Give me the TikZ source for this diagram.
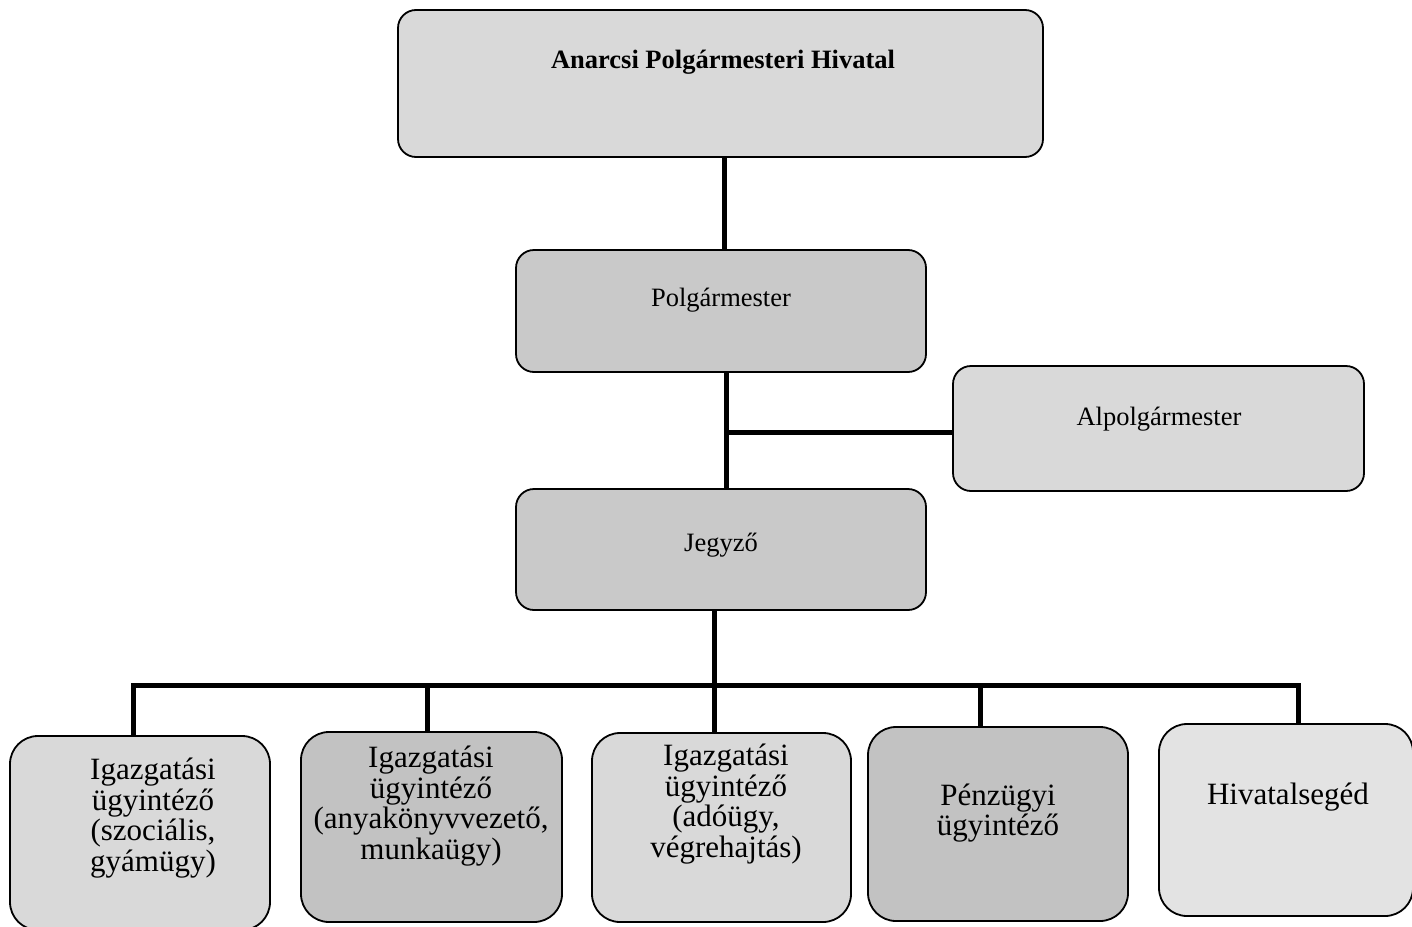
\documentclass[tikz,border=0pt]{standalone}
\usepackage{fontspec}
\setmainfont{Liberation Serif}
\begin{document}
\begin{tikzpicture}[x=1pt,y=-1pt,
  box/.style={draw=black, line width=1.8pt, rounded corners=18pt, inner sep=0pt},
  lbox/.style={box, fill=gray!30},
  dbox/.style={box, fill=gray!48},
  mtext/.style={font=\fontsize{26.5}{30}\selectfont, align=center, inner sep=0pt},
  btext/.style={font=\fontsize{31}{30.5}\selectfont, align=center, inner sep=0pt},
  conn/.style={line width=5pt}]
\useasboundingbox (0,0) rectangle (1412,926);
% boxes
\node[lbox, minimum width=645pt, minimum height=147pt] (hiv) at (720.5,83.5) {};
\node[dbox, fill=gray!42, minimum width=410pt, minimum height=122pt] (polg) at (721,311) {};
\node[lbox, minimum width=411pt, minimum height=125pt] (alp) at (1158.5,428.5) {};
\node[dbox, fill=gray!42, minimum width=410pt, minimum height=121pt] (jegy) at (721,549.5) {};
\node[lbox, rounded corners=28pt, minimum width=260pt, minimum height=194pt] (b1) at (140,833) {};
\node[dbox, rounded corners=28pt, minimum width=261pt, minimum height=190pt] (b2) at (431.5,827) {};
\node[lbox, rounded corners=28pt, minimum width=259pt, minimum height=189pt] (b3) at (721.5,827.5) {};
\node[dbox, rounded corners=28pt, minimum width=260pt, minimum height=194pt] (b4) at (998,824) {};
\node[lbox, fill=gray!22, rounded corners=28pt, minimum width=254pt, minimum height=192pt] (b5) at (1286,820) {};
% texts
\node[mtext, font=\fontsize{26.5}{30}\selectfont\bfseries] (thiv) at (723,62) {Anarcsi Polgármesteri Hivatal};
\node[mtext] (tpolg) at (721,300) {Polgármester};
\node[mtext] (talp) at (1159,419) {Alpolgármester};
\node[mtext] (tjegy) at (721,545) {Jegyző};
\node[btext] (tb1) at (153,818) {Igazgatási\\ügyintéző\\(szociális,\\gyámügy)};
\node[btext] (tb2) at (431,806) {Igazgatási\\ügyintéző\\(anyakönyvvezető,\\munkaügy)};
\node[btext] (tb3) at (726,804) {Igazgatási\\ügyintéző\\(adóügy,\\végrehajtás)};
\node[btext] (tb4) at (998,813) {Pénzügyi\\ügyintéző};
\node[btext] (tb5) at (1288,797) {Hivatalsegéd};
% connectors
\coordinate (j1) at (726,432);
\coordinate (bus) at (714,685);
\coordinate (busL) at (133,685);
\coordinate (busR) at (1298,685);
\draw[conn] (hiv.south -| 724,0) -- (polg.north -| 724,0);
\draw[conn] (polg.south -| j1) -- (jegy.north -| j1);
\draw[conn] (j1) -- (alp.west |- j1);
\draw[conn] (jegy.south -| bus) -- (bus);
\draw[conn, line cap=rect] (busL) -- (busR);
\draw[conn] (busL) -- (b1.north -| busL);
\draw[conn] (427,685) -- (b2.north -| 427,0);
\draw[conn] (bus) -- (b3.north -| bus);
\draw[conn] (980,685) -- (b4.north -| 980,0);
\draw[conn] (busR) -- (b5.north -| busR);
\end{tikzpicture}
\end{document}
